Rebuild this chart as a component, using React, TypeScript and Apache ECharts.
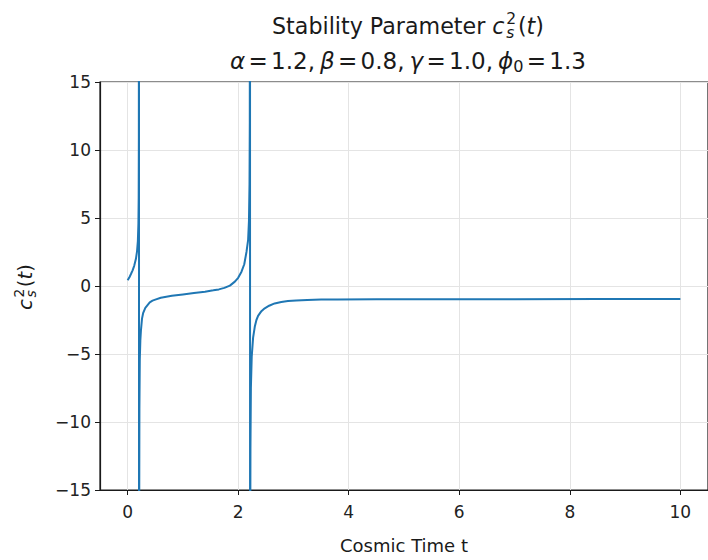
import React, { useEffect, useRef } from "react";
import * as echarts from "echarts";

// ---- data ----
const tValues = [
  0, 0.03, 0.06, 0.09, 0.12, 0.15, 0.17, 0.185, 0.195, 0.2, 0.203, 0.205,
  0.2065, 0.209, 0.213, 0.22, 0.23, 0.24, 0.26, 0.28, 0.32, 0.36, 0.4, 0.45, 0.5, 0.6, 0.7, 0.8, 1.0, 1.2, 1.4, 1.55, 1.65, 1.75, 1.85, 1.94, 2.0, 2.06, 2.11, 2.15, 2.18, 2.195, 2.205, 2.21, 2.214,
  2.2155, 2.218, 2.222, 2.23, 2.245, 2.27, 2.3, 2.33, 2.36, 2.42, 2.48, 2.56, 2.66, 2.78, 2.9, 3.05, 3.25, 3.5, 3.8, 4.5, 5.5, 7, 8.5, 10,
];
const cs2Values = [
  0.42, 0.62, 0.88, 1.15, 1.5, 2.0, 2.55, 3.3, 4.6, 6.5, 11, 60,
  -60, -18, -9, -5.4, -4.0, -3.3, -2.4, -2.0, -1.6, -1.4, -1.2, -1.08, -1.0, -0.86, -0.79, -0.72, -0.62, -0.52, -0.42, -0.32, -0.25, -0.14, 0.03, 0.32, 0.6, 1.05, 1.6, 2.5, 3.4, 4.8, 7.5, 12, 60,
  -60, -20, -12, -7.5, -5.2, -3.8, -3.0, -2.5, -2.2, -1.85, -1.64, -1.45, -1.28, -1.18, -1.11, -1.06, -1.03, -1.0, -0.99, -0.98, -0.97, -0.97, -0.96, -0.96,
];
const xTicks = [0, 2, 4, 6, 8, 10];
const yMin = -15;
const yMax = 15;
const yStep = 5;
const xLabel = "Cosmic Time t";

const FONT = '"DejaVu Sans", "Noto Sans", sans-serif';
const TEXT_COLOR = "#1a1a1a";

type Piece = {
  t: string;
  it?: boolean;
  s?: number;
  dy?: number;
  gap?: number;
  sup?: string;
  sub?: string;
};

const titleLine1: Piece[] = [
  { t: "Stability Parameter " },
  { t: "c", it: true },
  { t: "", sup: "2", sub: "s", s: 0.7, gap: 0.08 },
  { t: "(", gap: 0.08 },
  { t: "t", it: true },
  { t: ")" },
];
const titleLine2: Piece[] = [
  { t: "α", it: true },
  { t: "=", gap: 0.14 },
  { t: "1.2,", gap: 0.14 },
  { t: "β", it: true, gap: 0.22 },
  { t: "=", gap: 0.14 },
  { t: "0.8,", gap: 0.14 },
  { t: "γ", it: true, gap: 0.22 },
  { t: "=", gap: 0.14 },
  { t: "1.0,", gap: 0.14 },
  { t: "ϕ", it: true, gap: 0.22 },
  { t: "0", s: 0.7, dy: 0.15 },
  { t: "=", gap: 0.14 },
  { t: "1.3", gap: 0.14 },
];
const yLabelPieces: Piece[] = [
  { t: "c", it: true },
  { t: "", sup: "2", sub: "s", s: 0.7, gap: 0.08 },
  { t: "(", gap: 0.08 },
  { t: "t", it: true },
  { t: ")" },
];

const SUP_DY = -0.43;
const SUB_DY = 0.17;

function measure(ctx: CanvasRenderingContext2D, text: string, fs: number, italic?: boolean) {
  ctx.font = `${italic ? "italic " : ""}${fs}px ${FONT}`;
  return ctx.measureText(text).width;
}

function layoutPieces(ctx: CanvasRenderingContext2D, pieces: Piece[], size: number) {
  let x = 0;
  const items: { x: number; fs: number; p: Piece }[] = [];
  for (const p of pieces) {
    x += (p.gap || 0) * size;
    const fs = size * (p.s || 1);
    let w: number;
    if (p.sup !== undefined) {
      w = Math.max(measure(ctx, p.sup, fs, false), measure(ctx, p.sub || "", fs, true));
    } else {
      w = measure(ctx, p.t, fs, p.it);
    }
    items.push({ x, fs, p });
    x += w;
  }
  return { items, width: x };
}

function fitPieces(ctx: CanvasRenderingContext2D, pieces: Piece[], target: number) {
  const base = layoutPieces(ctx, pieces, 100);
  const size = (100 * target) / base.width;
  return { size, ...layoutPieces(ctx, pieces, size) };
}

function pieceEl(item: { x: number; fs: number; p: Piece }, x0: number, baseline: number, size: number) {
  const { p, fs } = item;
  if (p.sup !== undefined) {
    const supC = baseline + SUP_DY * size - 0.34 * fs;
    const subC = baseline + SUB_DY * size - 0.34 * fs;
    const lh = subC - supC;
    return {
      type: "text",
      x: x0 + item.x,
      y: (supC + subC) / 2,
      silent: true,
      style: {
        text: `{a|${p.sup}}\n{b|${p.sub}}`,
        fontFamily: FONT,
        fill: TEXT_COLOR,
        align: "left",
        verticalAlign: "middle",
        rich: {
          a: { fontSize: fs, fontFamily: FONT, fill: TEXT_COLOR, lineHeight: lh },
          b: { fontSize: fs, fontFamily: FONT, fontStyle: "italic", fill: TEXT_COLOR, lineHeight: lh },
        },
      },
    };
  }
  return {
    type: "text",
    x: x0 + item.x,
    y: baseline + (p.dy || 0) * size - 0.34 * fs,
    silent: true,
    style: {
      text: p.t,
      fontSize: fs,
      fontStyle: p.it ? "italic" : "normal",
      fontFamily: FONT,
      fill: TEXT_COLOR,
      align: "left",
      verticalAlign: "middle",
    },
  };
}

function buildLine(ctx: CanvasRenderingContext2D, pieces: Piece[], target: number, cx: number, baseline: number) {
  const lay = fitPieces(ctx, pieces, target);
  const left = cx - lay.width / 2;
  return lay.items.map((it) => pieceEl(it, left, baseline, lay.size));
}

export default function App() {
  const ref = useRef<HTMLDivElement>(null);

  useEffect(() => {
    if (!ref.current) return;
    const chart = echarts.init(ref.current, undefined, { renderer: "svg" });
    const canvas = document.createElement("canvas");
    const ctx = canvas.getContext("2d") as CanvasRenderingContext2D;

    const cx = 408;
    const graphics: any[] = [];
    graphics.push(...buildLine(ctx, titleLine1, 272, cx, 34));
    graphics.push(...buildLine(ctx, titleLine2, 356, cx, 68.5));

    const yl = fitPieces(ctx, yLabelPieces, 46);
    const yBase = 0.36 * yl.size;
    graphics.push({
      type: "group",
      x: 25,
      y: 287,
      rotation: Math.PI / 2,
      children: yl.items.map((it) => pieceEl(it, -yl.width / 2, yBase, yl.size)),
    });

    const data = tValues.map((t, i) => [t, cs2Values[i]]);

    const option: any = {
      animation: false,
      backgroundColor: "#ffffff",
      grid: {
        left: 100,
        top: 82,
        right: -9,
        bottom: 70,
        show: true,
        borderColor: TEXT_COLOR,
        borderWidth: 1.2,
        backgroundColor: "transparent",
      },
      xAxis: {
        type: "value",
        min: -0.5,
        max: 10.5,
        name: xLabel,
        nameLocation: "middle",
        nameGap: 46,
        nameTextStyle: { fontSize: 18, fontFamily: FONT, color: TEXT_COLOR },
        axisLine: { show: true, onZero: false, lineStyle: { color: TEXT_COLOR, width: 1.2 } },
        axisTick: { show: true, length: 5, customValues: xTicks, lineStyle: { color: TEXT_COLOR, width: 1 } },
        axisLabel: { customValues: xTicks, fontSize: 17, fontFamily: FONT, color: "#222", margin: 13 },
        splitLine: { show: true, lineStyle: { color: "#e4e4e4", width: 1 } },
      },
      yAxis: {
        type: "value",
        min: yMin,
        max: yMax,
        interval: yStep,
        axisLine: { show: true, onZero: false, lineStyle: { color: TEXT_COLOR, width: 1.2 } },
        axisTick: { show: true, length: 5, lineStyle: { color: TEXT_COLOR, width: 1 } },
        axisLabel: {
          fontSize: 17,
          fontFamily: FONT,
          color: "#222",
          margin: 9,
          formatter: (v: number) => (v < 0 ? "\u2212" + Math.abs(v) : String(v)),
        },
        splitLine: { show: true, lineStyle: { color: "#e4e4e4", width: 1 } },
      },
      series: [
        {
          type: "line",
          data,
          symbol: "none",
          showSymbol: false,
          clip: true,
          lineStyle: { color: "#1f77b4", width: 2 },
          z: 3,
        },
      ],
      graphic: graphics,
    };
    chart.setOption(option);
    return () => chart.dispose();
  }, []);

  return (
    <div
      ref={ref}
      style={{ position: "fixed", left: 0, top: 0, width: 708, height: 560, background: "#fff" }}
    />
  );
}
